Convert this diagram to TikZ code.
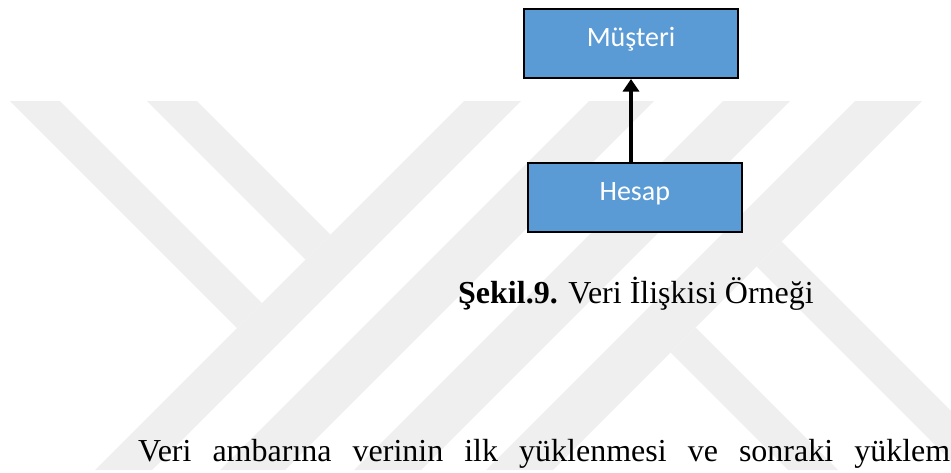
\documentclass[tikz,border=0pt]{standalone}
\usepackage{fontspec}
\setmainfont{Liberation Serif}
\newfontfamily\boxfont{Carlito}
\usetikzlibrary{arrows.meta}
\definecolor{entityblue}{RGB}{91,155,213}
\definecolor{markgray}{RGB}{239,239,239}
\begin{document}
\begin{tikzpicture}[x=1pt,y=-1pt,
  entity/.style={draw=black, line width=2pt, fill=entityblue, text=white,
    font=\boxfont\fontsize{28}{30}\selectfont,
    minimum width=214pt, minimum height=69pt, inner sep=0pt,
    text height=12pt, text depth=6.4pt},
  link/.style={line width=4.5pt, -{Triangle[length=12.5pt,width=16pt]}},
  band/.style={fill=markgray},
  textline/.style={anchor=base west, inner sep=0pt, font=\fontsize{32}{38}\selectfont}]
\useasboundingbox (0,0) rectangle (951,472);

% background emblem made of diagonal bands
\begin{scope}
  \clip (0,101) rectangle (951,470);
  % left letter: two falling bands joining a rising band
  \fill[band] (10,101) -- (60,101) -- (262,303) -- (237,328) -- cycle;
  \fill[band] (147,101) -- (197,101) -- (330.5,234.5) -- (305.5,259.5) -- cycle;
  \fill[band] (464,101) -- (521,101) -- (152,470) -- (95,470) -- cycle;
  \fill[band] (589,101) -- (654,101) -- (285,470) -- (220,470) -- cycle;
  % right letter: two rising bands, the second one with falling legs
  \fill[band] (723,101) -- (790,101) -- (421,470) -- (354,470) -- cycle;
  \fill[band] (855,101) -- (922,101) -- (553,470) -- (486,470) -- cycle;
  \fill[band] (695.5,327.5) -- (838,470) -- (788,470) -- (670.5,352.5) -- cycle;
  \fill[band] (781.5,241.5) -- (1010,470) -- (960,470) -- (756.5,266.5) -- cycle;
\end{scope}

% entities and their relation
\node[entity] (musteri) at (631,43.5) {Müşteri};
\node[entity] (hesap) at (634.8,197.8) {Hesap};
\draw[link] (musteri.south |- hesap.north) -- (musteri.south);

% caption and following text
\node[textline] (caption) at (458,303) {\textbf{Şekil.9.} Veri İlişkisi Örneği};
\node[textline] (para) at (138,461)
  {\makebox[812pt][s]{Veri ambarına verinin ilk yüklenmesi ve sonraki yüklem}};
\end{tikzpicture}
\end{document}
